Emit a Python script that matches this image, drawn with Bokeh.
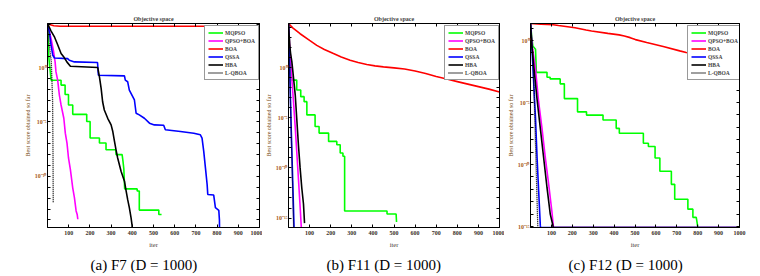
from bokeh.plotting import figure
from bokeh.models import Range1d, FixedTicker, LogAxis, LinearAxis, Title
from bokeh.layouts import row
from bokeh.embed import file_html
from bokeh.resources import INLINE

# ---------------- data (iteration, log10 of best score) ----------------
NAMES = ["MQPSO", "QPSO+BOA", "BOA", "QSSA", "HBA", "L-QBOA"]
COLORS = ["#00ff00", "#ff00ff", "#ff0000", "#0000ff", "#000000", "#000000"]
DASHES = ["solid", "solid", "solid", "solid", "solid", "1 1"]

X_TICKS = [100, 200, 300, 400, 500, 600, 700, 800, 900, 1000]
Y_LABELS = {0: "10\u2070", -5: "10\u207b\u2075", -10: "10\u207b\u00b9\u2070", -15: "10\u207b\u00b9\u2075"}

CAPTIONS = ["(a) F7 (D = 1000)", "(b) F11 (D = 1000)", "(c) F12 (D = 1000)"]

# (a) F7
F7_MQPSO_IT = [0, 3, 5, 10, 17, 64, 64, 83, 83, 99, 99, 119, 119, 185, 185, 201, 201, 245, 245, 276, 276, 323, 323, 352, 356, 360, 364, 423, 423, 433, 433, 525, 525, 538]
F7_MQPSO_LG = [4.05, 2.6, 1.2, 0.2, -1.16, -1.16, -1.61, -1.61, -2.47, -2.47, -3.44, -3.44, -4.3, -4.3, -4.96, -4.96, -6.48, -6.48, -6.94, -6.94, -7.55, -7.55, -8.0, -8.0, -8.6, -9.3, -11.15, -11.15, -11.35, -11.35, -13.1, -13.1, -13.5, -13.5]
F7_QPSOBOA_IT = [0, 17, 29, 36, 40, 48, 56, 64, 77, 84, 92, 99, 108, 119, 127, 135, 140, 143]
F7_QPSOBOA_LG = [4.05, 2.65, 1.43, 0.5, -0.4, -1.16, -2.53, -3.44, -4.66, -6.03, -6.94, -8.31, -9.38, -11.05, -11.96, -13.18, -13.5, -13.94]
F7_BOA_IT = [0, 10, 30, 60, 1000]
F7_BOA_LG = [4.05, 3.95, 3.84, 3.8, 3.8]
F7_QSSA_IT = [0, 9, 17, 25, 33, 95, 103, 127, 236, 240, 363, 367, 378, 386, 410, 418, 433, 457, 481, 504, 548, 556, 627, 690, 721, 729, 737, 745, 753, 756, 784, 792, 808, 811, 812]
F7_QSSA_LG = [4.05, 3.26, 2.04, 1.13, 0.88, 0.82, 0.67, 0.52, 0.46, -0.7, -0.76, -1.16, -1.3, -2.07, -2.98, -4.2, -4.35, -4.66, -5.11, -5.27, -5.3, -5.72, -5.88, -6.03, -6.18, -6.48, -7.7, -9.22, -10.75, -11.66, -11.72, -12.88, -13.12, -14.0, -16.0]
F7_HBA_IT = [0, 17, 32, 48, 64, 76, 92, 108, 160, 237, 245, 253, 260, 268, 284, 300, 308, 316, 323, 331, 347, 363, 371, 378, 386, 394, 399, 400]
F7_HBA_LG = [4.05, 3.35, 2.85, 2.1, 1.3, 1.0, 0.5, 0.12, 0.08, 0.0, -0.85, -1.92, -3.14, -3.9, -4.66, -5.27, -5.88, -6.79, -7.55, -8.31, -9.53, -10.44, -11.35, -12.12, -12.88, -13.8, -14.5, -16.0]
F7_LQBOA_IT = [0, 4, 10, 18, 24, 26, 27]
F7_LQBOA_LG = [4.05, 3.2, 1.8, 0.5, -3.0, -8.0, -12.4]

# (b) F11
F11_MQPSO_IT = [0, 5, 10, 15, 39, 39, 58, 58, 74, 74, 87, 87, 126, 126, 145, 145, 190, 190, 229, 229, 245, 245, 258, 258, 266, 266, 467, 467, 510, 512]
F11_MQPSO_LG = [4.39, 2.5, 0.5, -1.25, -1.25, -2.24, -2.24, -2.9, -2.9, -3.4, -3.4, -4.72, -4.72, -5.87, -5.87, -6.53, -6.53, -7.36, -7.36, -7.69, -7.69, -8.51, -8.51, -8.84, -8.84, -14.3, -14.3, -14.6, -14.6, -15.4]
F11_QPSOBOA_IT = [0, 8, 16, 24, 32, 40, 48, 56, 63]
F11_QPSOBOA_LG = [4.39, 1.5, -1.2, -3.5, -6.0, -8.7, -11.4, -14.2, -16.8]
F11_BOA_IT = [0, 20, 55, 100, 134, 170, 213, 250, 292, 330, 371, 410, 450, 500, 550, 600, 650, 700, 750, 800, 850, 900, 950, 1000]
F11_BOA_LG = [4.39, 3.95, 3.37, 2.7, 2.21, 1.8, 1.39, 1.05, 0.73, 0.5, 0.3, 0.17, 0.07, -0.03, -0.15, -0.35, -0.6, -0.9, -1.15, -1.4, -1.65, -1.9, -2.15, -2.44]
F11_QSSA_IT = [0, 7, 13, 20, 27]
F11_QSSA_LG = [4.39, -1.2, -6.2, -11.3, -16.5]
F11_HBA_IT = [0, 5, 10, 16, 24, 32, 39, 47, 55, 63, 71, 76]
F11_HBA_LG = [4.39, 2.4, 1.4, 0.56, -1.08, -2.74, -5.05, -7.69, -10.0, -12.0, -13.6, -15.5]
F11_LQBOA_IT = [0, 6, 12, 18, 25]
F11_LQBOA_LG = [4.39, -0.8, -5.8, -10.8, -16.5]

# (c) F12
F12_MQPSO_IT = [0, 6, 11, 24, 28, 79, 79, 94, 94, 142, 142, 162, 162, 225, 225, 268, 268, 347, 347, 410, 410, 425, 425, 540, 540, 564, 564, 596, 596, 619, 619, 674, 674, 690, 690, 753, 753, 777, 777, 793, 801]
F12_MQPSO_LG = [1.38, 0.3, -0.43, -0.69, -2.56, -2.56, -2.96, -2.96, -3.09, -3.09, -3.49, -3.49, -4.68, -4.68, -5.75, -5.75, -6.01, -6.01, -6.41, -6.41, -7.08, -7.08, -7.48, -7.48, -8.28, -8.28, -8.54, -8.54, -9.47, -9.47, -10.54, -10.54, -11.6, -11.6, -12.8, -12.8, -13.6, -13.6, -14.26, -14.26, -15.08]
F12_QPSOBOA_IT = [0, 8, 24, 39, 55, 71, 87, 102, 110, 1000]
F12_QPSOBOA_LG = [1.38, -0.43, -2.29, -4.95, -7.08, -9.47, -11.6, -13.73, -15.08, -15.08]
F12_BOA_IT = [0, 50, 109, 134, 213, 266, 292, 370, 424, 449, 477, 502, 556, 635, 714, 745, 818, 900, 1000]
F12_BOA_LG = [1.38, 1.33, 1.28, 1.22, 1.04, 0.85, 0.77, 0.58, 0.46, 0.37, 0.24, 0.08, -0.16, -0.48, -0.83, -0.96, -1.15, -1.42, -1.7]
F12_QSSA_IT = [0, 8, 16, 24, 31.5, 39, 47, 48, 1000]
F12_QSSA_LG = [1.38, -0.96, -3.62, -6.28, -9.47, -12.13, -14.93, -15.08, -15.08]
F12_HBA_IT = [0, 4.5, 15.5, 31, 47, 63, 79, 94.5, 107, 108, 1000]
F12_HBA_LG = [1.38, -0.1, -2.02, -4.68, -7.08, -9.47, -11.87, -14.0, -14.9, -15.08, -15.08]
F12_LQBOA_IT = [0, 11, 20.5, 35]
F12_LQBOA_LG = [1.38, -0.96, -6.28, -15.08]

F7_SERIES = [(F7_MQPSO_IT, F7_MQPSO_LG), (F7_QPSOBOA_IT, F7_QPSOBOA_LG), (F7_BOA_IT, F7_BOA_LG),
             (F7_QSSA_IT, F7_QSSA_LG), (F7_HBA_IT, F7_HBA_LG), (F7_LQBOA_IT, F7_LQBOA_LG)]
F11_SERIES = [(F11_MQPSO_IT, F11_MQPSO_LG), (F11_QPSOBOA_IT, F11_QPSOBOA_LG), (F11_BOA_IT, F11_BOA_LG),
              (F11_QSSA_IT, F11_QSSA_LG), (F11_HBA_IT, F11_HBA_LG), (F11_LQBOA_IT, F11_LQBOA_LG)]
F12_SERIES = [(F12_MQPSO_IT, F12_MQPSO_LG), (F12_QPSOBOA_IT, F12_QPSOBOA_LG), (F12_BOA_IT, F12_BOA_LG),
              (F12_QSSA_IT, F12_QSSA_LG), (F12_HBA_IT, F12_HBA_LG), (F12_LQBOA_IT, F12_LQBOA_LG)]

SERIF = "Liberation Serif"
FIG_H = 276


def style_hidden_axis(ax, ticks):
    ax.major_label_overrides = {t: "" for t in ticks}
    ax.major_label_text_font_size = "1px"
    ax.major_label_text_color = None
    ax.major_label_standoff = 0
    ax.major_tick_in = 3
    ax.major_tick_out = 0
    ax.minor_tick_in = 0
    ax.minor_tick_out = 0
    ax.axis_line_color = "black"


def make_panel(series, lo, hi, exps, width, bl, br, leg_x, caption, cap_off):
    yt = [10.0 ** e for e in exps]
    overrides = {10.0 ** e: Y_LABELS.get(e, "") for e in exps}
    p = figure(width=width, height=FIG_H, x_range=Range1d(0, 1000),
               y_range=Range1d(10.0 ** lo, 10.0 ** hi), y_axis_type="log",
               output_backend="svg", toolbar_location=None,
               min_border_left=bl, min_border_right=br, min_border_top=23, min_border_bottom=48,
               title="Objective space")
    p.background_fill_color = "white"
    p.border_fill_color = "white"
    p.outline_line_color = "black"
    p.outline_line_width = 1
    p.xgrid.visible = False
    p.ygrid.visible = False

    p.title.align = "center"
    p.title.text_font = SERIF
    p.title.text_font_size = "6px"
    p.title.text_font_style = "bold"
    p.title.standoff = 3

    xa = p.xaxis[0]
    xa.ticker = FixedTicker(ticks=X_TICKS)
    xa.major_tick_in = 3
    xa.major_tick_out = 0
    xa.minor_tick_in = 0
    xa.minor_tick_out = 0
    xa.axis_line_color = "black"
    xa.major_label_text_font = SERIF
    xa.major_label_text_font_size = "6px"
    xa.major_label_text_font_style = "bold"
    xa.major_label_text_color = "#3a3028"
    xa.major_label_standoff = 3
    xa.axis_label = "iter"
    xa.axis_label_text_font = SERIF
    xa.axis_label_text_font_size = "6.5px"
    xa.axis_label_text_font_style = "normal"
    xa.axis_label_text_color = "#4a4038"
    xa.axis_label_standoff = 3

    ya = p.yaxis[0]
    ya.ticker = FixedTicker(ticks=yt)
    ya.major_label_overrides = overrides
    ya.major_tick_in = 3
    ya.major_tick_out = 0
    ya.minor_tick_in = 0
    ya.minor_tick_out = 0
    ya.axis_line_color = "black"
    ya.major_label_text_font = SERIF
    ya.major_label_text_font_size = "6px"
    ya.major_label_text_font_style = "bold"
    ya.major_label_text_color = "#a85c18"
    ya.major_label_standoff = 1
    ya.axis_label = "Best score obtained so far"
    ya.axis_label_text_font = SERIF
    ya.axis_label_text_font_size = "6px"
    ya.axis_label_text_font_style = "normal"
    ya.axis_label_text_color = "#7b4f22"
    ya.axis_label_standoff = 1

    top = LinearAxis(ticker=FixedTicker(ticks=X_TICKS))
    style_hidden_axis(top, X_TICKS)
    p.add_layout(top, "above")
    right = LogAxis(ticker=FixedTicker(ticks=yt))
    style_hidden_axis(right, yt)
    p.add_layout(right, "right")

    cap = Title(text=caption, align="left", offset=cap_off, text_font=SERIF,
                text_font_size="15px", text_font_style="normal", text_color="black", standoff=8)
    p.add_layout(cap, "below")

    for (it, lg), nm, col, dash in zip(series, NAMES, COLORS, DASHES):
        p.line(x=it, y=[10.0 ** v for v in lg], line_color=col,
               line_width=1.3 if dash != "solid" else 1.6, line_dash=dash, legend_label=nm)

    lgd = p.legend[0]
    lgd.location = (leg_x, 147)
    lgd.label_text_font = SERIF
    lgd.label_text_font_style = "bold"
    lgd.label_text_font_size = "5.5px"
    lgd.label_height = 7
    lgd.glyph_height = 7
    lgd.glyph_width = 15
    lgd.spacing = 1
    lgd.padding = 3
    lgd.margin = 0
    lgd.label_standoff = 2
    lgd.border_line_color = "#333333"
    lgd.border_line_width = 1
    lgd.background_fill_color = "white"
    lgd.background_fill_alpha = 1.0
    return p


pa = make_panel(F7_SERIES, -14.7, 4.05, list(range(-14, 5)), 262, 47, 3, 157, CAPTIONS[0], 43)
pb = make_panel(F11_SERIES, -15.94, 4.39, list(range(-15, 5)), 242, 26, 5, 156, CAPTIONS[1], 38)
pc = make_panel(F12_SERIES, -15.08, 1.38, list(range(-15, 2)), 256, 23, 21, 157, CAPTIONS[2], 38)

layout = row(pa, pb, pc)
open("out.html", "w").write(file_html(layout, INLINE))
